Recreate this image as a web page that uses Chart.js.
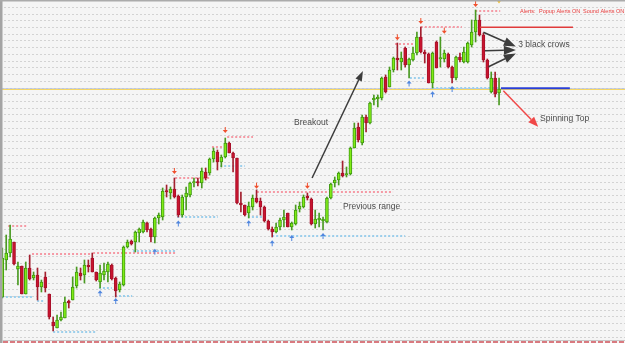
<!DOCTYPE html>
<html>
<head>
<meta charset="utf-8">
<script src="https://cdn.jsdelivr.net/npm/chart.js@4.4.1/dist/chart.umd.min.js"></script>
<style>
  html, body { margin: 0; padding: 0; background: #f5f5f5; overflow: hidden; }
  #chart { display: block; }
</style>
</head>
<body>
<canvas id="chart" width="625" height="343"></canvas>
<script>
// candles, price in chart points
const opens  = [43,80,87,98,71,74,46,72,62,65,53,63,46,18,12,20,22,39,40,54,67,65,75,82,68,58,65,68,75,62,50,55,93,99,98,107,108,117,111,103,122,123,149,147,151,144,125,143,145,157,158,157,168,167,181,188,178,183,197,187,182,137,135,127,133,142,139,133,119,111,108,113,120,127,113,116,131,133,144,141,116,120,119,118,142,157,160,167,165,166,192,213,197,223,217,240,241,242,263,253,270,282,278,292,275,280,287,303,288,286,257,298,281,281,286,273,262,283,278,278,295,308,320,305,280,248,262,247];
const highs  = [92,105,115,98,78,74,78,85,68,72,60,68,46,23,25,28,43,40,63,73,72,80,80,87,68,75,77,78,76,63,58,94,100,100,109,112,120,118,112,123,127,152,155,153,162,145,145,153,158,162,162,172,172,182,192,190,185,202,198,188,182,148,135,138,145,150,142,134,120,113,117,122,130,127,118,135,138,145,147,142,130,127,123,143,157,163,168,179,173,193,217,217,225,225,238,245,245,263,265,273,283,297,288,293,282,293,308,313,290,287,288,299,303,290,287,274,284,287,293,298,320,330,325,307,281,268,268,262];
const lows   = [42,70,83,75,55,46,46,60,60,40,48,48,21,9,12,19,22,32,40,52,60,57,68,68,59,52,60,58,60,43,48,54,92,95,88,98,107,108,98,97,116,120,143,141,142,123,123,130,143,153,154,152,160,165,178,170,173,182,187,168,136,128,124,122,130,137,125,118,110,103,107,110,113,113,110,115,128,132,140,115,112,113,110,117,141,153,155,163,163,165,192,198,195,208,216,235,233,240,247,253,268,270,270,273,262,279,285,287,277,257,252,272,273,278,272,257,260,278,277,277,293,298,304,278,261,247,243,235];
const closes = [82,87,101,76,74,46,72,61,65,53,58,52,23,14,20,23,38,37,53,68,64,75,73,68,60,67,69,76,61,49,56,93,98,96,108,111,118,110,103,122,125,149,148,151,143,125,143,147,157,158,157,169,162,181,189,178,183,197,187,182,137,135,125,134,142,138,133,119,111,108,113,120,123,113,117,130,134,143,142,116,121,122,121,142,156,160,167,164,166,192,212,200,223,217,237,242,243,262,248,270,282,280,282,275,281,287,303,288,286,257,287,272,282,287,273,262,283,280,288,297,308,320,305,280,262,262,246,251];

// fractal markers [candle index, price]
const upFractals   = [[44,169],[57,210],[65,154.3],[78,154.3],[101,302.7],[107,319],[113,309.3],[121,336]];
const downFractals = [[25,46.7],[29,39],[39,88.3],[45,116.5],[63,116.7],[69,96.7],[74,102],[82,104],[104,256.5],[110,245.7],[115,251]];

// dotted levels [from index, to index, price]
const resistLevels = [[1.5,6.1,114.3],[7.6,22.7,85.5],[23.2,44.2,87.3],[44.2,53.1,161.7],[53.6,56.2,193.3],[57.5,64.1,203.3],[65.1,99.9,147.7],[100.4,105,296.3],[107,117.5,312.7],[120.9,127.3,329.3]];
const supportLevels = [[-0.1,7.8,43.3],[8.9,10.9,39],[24.7,28,52.3],[28.8,33.2,44.3],[13,24.2,7.7],[33.4,44.2,89],[44.7,55.1,122.7],[55.7,62,174.3],[62.8,66.7,122.7],[69,103,104],[104.2,108,261.7],[109.9,127.3,251.7]];

// drawn lines and arrows [x1, y1, x2, y2] in index / price
const redLine = [122.1, 312.7, 145.9, 312.7];
const blueLine = [127.5, 251.7, 145.1, 251.7];
const yellowPrice = 250.7;
const breakoutArrow = [79.2, 162, 92.2, 269];
const crowArrows = [[123, 307.7, 131.3, 293.5], [123.4, 289.3, 131.3, 290], [124.3, 273.3, 131.3, 286.5]];
const spinArrow = [128.1, 249.3, 137.0, 213.3];

// labels [text, index, price]
const labels = [['Breakout', 74.6, 217.5], ['Previous range', 87.1, 133], ['3 black crows', 131.9, 295.7], ['Spinning Top', 137.5, 221.7]];

const isUp = opens.map((o, i) => closes[i] >= o);
const bodyData = opens.map((o, i) => ({ x: i, y: [o, closes[i]] }));
const wickData = lows.map((l, i) => ({ x: i, y: [l, highs[i]] }));

function arrow(ctx, x1, y1, x2, y2, color, lw, hl, hw) {
    const a = Math.atan2(y2 - y1, x2 - x1);
    const bx = x2 - hl * Math.cos(a), by = y2 - hl * Math.sin(a);
    ctx.strokeStyle = color;
    ctx.fillStyle = color;
    ctx.lineWidth = lw;
    ctx.beginPath();
    ctx.moveTo(x1, y1);
    ctx.lineTo(bx, by);
    ctx.stroke();
    ctx.beginPath();
    ctx.moveTo(x2, y2);
    ctx.lineTo(bx + hw / 2 * Math.sin(a), by - hw / 2 * Math.cos(a));
    ctx.lineTo(bx - hw / 2 * Math.sin(a), by + hw / 2 * Math.cos(a));
    ctx.closePath();
    ctx.fill();
}

const overlay = {
    id: 'overlay',
    beforeDraw(chart) {
        const ctx = chart.ctx;
        ctx.save();
        ctx.fillStyle = '#f5f5f5';
        ctx.fillRect(0, 0, chart.width, chart.height);
        ctx.restore();
    },
    beforeDatasetsDraw(chart) {
        const ctx = chart.ctx;
        const X = v => chart.scales.x.getPixelForValue(v);
        const Y = v => chart.scales.y.getPixelForValue(v);
        ctx.save();
        // faint blue dotted + yellow line across
        const yy = Math.round(Y(yellowPrice));
        ctx.lineWidth = 1;
        ctx.setLineDash([2, 2]);
        ctx.strokeStyle = '#b9c6e6';
        ctx.beginPath(); ctx.moveTo(2, yy - 0.5); ctx.lineTo(chart.width, yy - 0.5); ctx.stroke();
        ctx.setLineDash([]);
        ctx.strokeStyle = '#f4d666';
        ctx.beginPath(); ctx.moveTo(2, yy + 0.5); ctx.lineTo(chart.width, yy + 0.5); ctx.stroke();
        // dotted levels
        ctx.lineWidth = 2;
        ctx.setLineDash([2, 2]);
        ctx.strokeStyle = '#f59aa5';
        resistLevels.forEach(([a, b, p]) => {
            ctx.beginPath(); ctx.moveTo(X(a), Math.round(Y(p))); ctx.lineTo(X(b), Math.round(Y(p))); ctx.stroke();
        });
        ctx.strokeStyle = '#9ccfec';
        supportLevels.forEach(([a, b, p]) => {
            ctx.beginPath(); ctx.moveTo(X(a), Math.round(Y(p))); ctx.lineTo(X(b), Math.round(Y(p))); ctx.stroke();
        });
        ctx.setLineDash([]);
        ctx.restore();
    },
    afterDatasetsDraw(chart) {
        const ctx = chart.ctx;
        const X = v => chart.scales.x.getPixelForValue(v);
        const Y = v => chart.scales.y.getPixelForValue(v);
        ctx.save();
        // fractal arrows
        upFractals.forEach(([i, p]) => {
            const x = X(i), y = Y(p);
            ctx.strokeStyle = '#f0502e'; ctx.fillStyle = '#f0502e'; ctx.lineWidth = 1;
            ctx.beginPath(); ctx.moveTo(x, y - 3); ctx.lineTo(x, y + 1); ctx.stroke();
            ctx.beginPath(); ctx.moveTo(x - 2.5, y); ctx.lineTo(x + 2.5, y); ctx.lineTo(x, y + 3); ctx.closePath(); ctx.fill();
        });
        downFractals.forEach(([i, p]) => {
            const x = X(i), y = Y(p);
            ctx.strokeStyle = '#4f86df'; ctx.fillStyle = '#4f86df'; ctx.lineWidth = 1;
            ctx.beginPath(); ctx.moveTo(x, y + 3); ctx.lineTo(x, y - 1); ctx.stroke();
            ctx.beginPath(); ctx.moveTo(x - 2.5, y); ctx.lineTo(x + 2.5, y); ctx.lineTo(x, y - 3); ctx.closePath(); ctx.fill();
        });
        // solid lines
        ctx.lineWidth = 1.5;
        ctx.strokeStyle = '#e03a3a';
        ctx.beginPath(); ctx.moveTo(X(redLine[0]), Y(redLine[1])); ctx.lineTo(X(redLine[2]), Y(redLine[3])); ctx.stroke();
        ctx.lineWidth = 2;
        ctx.strokeStyle = '#2a3fd6';
        ctx.beginPath(); ctx.moveTo(X(blueLine[0]), Y(blueLine[1])); ctx.lineTo(X(blueLine[2]), Y(blueLine[3])); ctx.stroke();
        // arrows
        const b = breakoutArrow;
        arrow(ctx, X(b[0]), Y(b[1]), X(b[2]), Y(b[3]), '#3c3c3c', 1.5, 10, 7);
        crowArrows.forEach(c => arrow(ctx, X(c[0]), Y(c[1]), X(c[2]), Y(c[3]), '#3c3c3c', 1.5, 12, 9));
        const s = spinArrow;
        arrow(ctx, X(s[0]), Y(s[1]), X(s[2]), Y(s[3]), '#f04848', 1.5, 10, 8);
        // labels
        ctx.font = '8.5px "Liberation Sans", Arial, sans-serif';
        ctx.fillStyle = '#4a4a4a';
        ctx.textBaseline = 'middle';
        labels.forEach(([t, i, p]) => ctx.fillText(t, X(i), Y(p)));
        // alerts line at the top
        ctx.font = '5.5px "Liberation Sans", Arial, sans-serif';
        ctx.fillStyle = '#e83a3a';
        ctx.fillText('Alerts:', 520, 11);
        ctx.fillText('Popup Alerts ON', 539, 11);
        ctx.fillText('Sound Alerts ON', 583, 11);
        // small marker at top
        ctx.fillStyle = '#f0c030';
        ctx.beginPath(); ctx.moveTo(496.5, 0); ctx.lineTo(501.5, 0); ctx.lineTo(499, 3.5); ctx.closePath(); ctx.fill();
        // frame
        ctx.fillStyle = '#a4a4a4';
        ctx.fillRect(0, 0, 2.5, chart.height);
        ctx.fillStyle = '#ababab';
        ctx.fillRect(0, 0, chart.width, 1.5);
        ctx.fillStyle = '#c8c8c8';
        ctx.fillRect(2, 340, chart.width, 1);
        ctx.strokeStyle = '#d97a80';
        ctx.lineWidth = 2;
        ctx.setLineDash([5, 2]);
        ctx.beginPath(); ctx.moveTo(3, 342); ctx.lineTo(chart.width, 342); ctx.stroke();
        ctx.restore();
    }
};

new Chart(document.getElementById('chart'), {
    type: 'bar',
    data: {
        datasets: [{
            label: 'body',
            data: bodyData,
            backgroundColor: isUp.map(u => u ? '#80ec16' : '#c8142e'),
            borderColor: isUp.map(u => u ? '#3f9a10' : '#a8102a'),
            borderWidth: 1,
            borderSkipped: false,
            barThickness: 3,
            minBarLength: 1.5,
            grouped: false,
            order: 1
        }, {
            label: 'wick',
            data: wickData,
            backgroundColor: isUp.map(u => u ? '#4a9a22' : '#a3202f'),
            borderWidth: 0,
            barThickness: 1,
            minBarLength: 1,
            grouped: false,
            order: 2
        }]
    },
    options: {
        responsive: false,
        animation: false,
        layout: { padding: 0 },
        plugins: { legend: { display: false }, tooltip: { enabled: false } },
        scales: {
            x: {
                type: 'linear',
                min: -0.588,
                max: 159.2,
                offset: false,
                display: false
            },
            y: {
                min: -3,
                max: 340,
                afterBuildTicks: scale => {
                    const t = [];
                    for (let v = 332.7; v > scale.min; v -= 6.73) t.push({ value: v });
                    scale.ticks = t;
                },
                ticks: { display: false },
                border: { display: false, dash: [2, 2] },
                grid: { color: '#d3d3d3', drawTicks: false }
            }
        }
    },
    plugins: [overlay]
});
</script>
</body>
</html>
